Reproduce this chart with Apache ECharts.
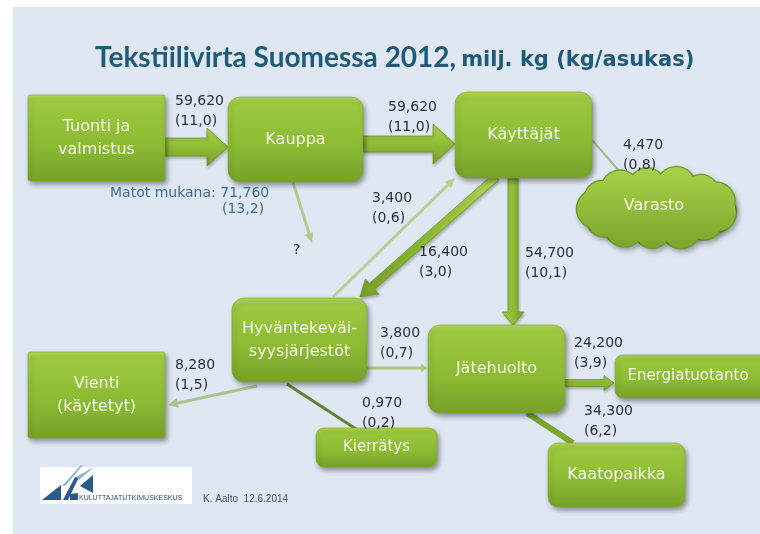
<!DOCTYPE html>
<html><head><meta charset="utf-8">
<script src="https://cdn.jsdelivr.net/npm/echarts@6/dist/echarts.min.js"></script>
<style>html,body{margin:0;padding:0;background:#fff}#c{width:760px;height:534px}</style>
</head><body><div id="c"></div>
<script>
// ---------------- DATA ----------------
const nodeNames = ['Tuonti ja\nvalmistus', 'Kauppa', 'Käyttäjät', 'Varasto', 'Hyväntekeväi-\nsyysjärjestöt',
  'Vienti\n(käytetyt)', 'Jätehuolto', 'Energiatuotanto', 'Kierrätys', 'Kaatopaikka'];
// flows (index into nodeNames; -1 = unknown destination)
const flowFrom = [0, 1, 2, 2, 4, 2, 4, 4, 4, 6, 6, 1];
const flowTo   = [1, 2, 3, 4, 2, 6, 5, 6, 8, 7, 9, -1];
const flowMillionKg   = [59.62, 59.62, 4.47, 16.4, 3.4, 54.7, 8.28, 3.8, 0.97, 24.2, 34.3, null];
const flowKgPerCapita = [11.0, 11.0, 0.8, 3.0, 0.6, 10.1, 1.5, 0.7, 0.2, 3.9, 6.2, null];
const carpetsMillionKg = [71.76];
const carpetsKgPerCapita = [13.2];
const titleMain = 'Tekstiilivirta Suomessa 2012,';
const titleUnit = 'milj. kg (kg/asukas)';
const carpetsLabel = 'Matot mukana: ';

// ---------------- LAYOUT (diagram units) ----------------
// x0, y0, x1, y1, corner radius, font size
const nodeBox = [
  [28, 95, 165, 181, 2, 16],
  [228, 97, 363, 182, 12, 16],
  [455, 92, 592, 178, 12, 16],
  [577, 166, 737, 250, 0, 16],
  [232, 298, 367, 382, 12, 16],
  [28, 352, 165, 438, 2, 16],
  [428, 325, 565, 413, 12, 16],
  [615, 355, 790, 398, 8, 15],
  [316, 428, 437, 467, 8, 15],
  [548, 443, 685, 507, 10, 16]
];
const nodeIsCloud = [false, false, false, true, false, false, false, false, false, false];
// x1, y1, x2, y2, shaft width, head width, head length, style
const flowPath = [
  [165, 147, 228, 147, 18, 38, 21, 'block'],
  [363, 144, 455, 144, 16, 40, 22, 'block'],
  [592, 140, 621, 173, 2, 0, 0, '#a5b98c'],
  [496, 177, 360, 297, 8, 20, 16, 'block'],
  [333, 297, 455, 178, 3, 9, 10, '#b8d08f'],
  [513, 178, 513, 325, 10, 22, 13, 'block'],
  [257, 386, 168, 405, 3, 10, 10, '#a9c58d'],
  [367, 368, 428, 368, 3, 8, 7, '#a8cb78'],
  [287, 384, 356, 429, 3, 0, 0, '#5f8530'],
  [565, 383, 614, 383, 7, 15, 10, 'block'],
  [527, 413, 573, 443, 6, 0, 0, '#7ba634'],
  [293, 182, 312, 243, 3, 9, 10, '#b3cb92']
];
// label x, first-line center y
const flowLabelPos = [
  [175, 101], [388, 107], [623, 145], [419, 252], [372, 198], [525, 253],
  [175, 365], [380, 333], [362, 403], [574, 343], [584, 411], [293, 250]
];
const carpetsLabelPos = [[110, 193], [222, 209]];

// ---------------- HELPERS ----------------
const fmt3 = v => v.toFixed(3).replace('.', ',');
const fmt1 = v => '(' + v.toFixed(1).replace('.', ',') + ')';
const numFont = '"DejaVu Sans", sans-serif';
const G = echarts.graphic;

function arrowPoints(p1, p2, w, hw, hl) {
  const dx = p2[0] - p1[0], dy = p2[1] - p1[1];
  const L = Math.sqrt(dx * dx + dy * dy);
  const ux = dx / L, uy = dy / L, nx = -uy, ny = ux;
  const P = (p, a) => [p[0] + nx * a, p[1] + ny * a];
  if (!hl) return [P(p1, w / 2), P(p2, w / 2), P(p2, -w / 2), P(p1, -w / 2)];
  const base = [p2[0] - ux * hl, p2[1] - uy * hl];
  return [P(p1, w / 2), P(base, w / 2), P(base, hw / 2), p2.slice(),
          P(base, -hw / 2), P(base, -w / 2), P(p1, -w / 2)];
}

function renderFlow(params, api) {
  const i = params.dataIndex;
  const f = flowPath[i];
  const p1 = api.coord([api.value(0), api.value(1)]);
  const p2 = api.coord([api.value(2), api.value(3)]);
  const pts = arrowPoints(p1, p2, f[4], f[5], f[6]);
  let style;
  if (f[7] === 'block') {
    const horiz = Math.abs(p2[1] - p1[1]) < Math.abs(p2[0] - p1[0]);
    style = {
      fill: new G.LinearGradient(0, 0, horiz ? 0 : 1, horiz ? 1 : 0, [
        { offset: 0, color: '#b0d54e' }, { offset: 0.5, color: '#8fbd35' }, { offset: 1, color: '#77a02a' }]),
      stroke: '#6f9728', lineWidth: 0.8,
      shadowBlur: 3, shadowColor: 'rgba(0,0,0,0.25)', shadowOffsetX: 1, shadowOffsetY: 2
    };
  } else {
    style = { fill: f[7] };
  }
  return { type: 'polygon', shape: { points: pts }, style };
}

function renderFlowLabel(params, api) {
  const i = params.dataIndex;
  const lp = api.coord([api.value(0), api.value(1)]);
  const txt = flowMillionKg[i] == null ? '?' :
    fmt3(flowMillionKg[i]) + '\n' + fmt1(flowKgPerCapita[i]);
  return {
    type: 'text',
    style: { x: lp[0], y: lp[1] - 10, text: txt, fill: '#2b2d38', font: '14px ' + numFont,
      lineHeight: 20, align: 'left', verticalAlign: 'top' }
  };
}

function renderNode(params, api) {
  const i = params.dataIndex;
  const b = nodeBox[i];
  const a = api.coord([api.value(0), api.value(1)]);
  const c = api.coord([api.value(2), api.value(3)]);
  const x = a[0], y = a[1], w = c[0] - a[0], h = c[1] - a[1];
  const children = [];
  if (nodeIsCloud[i]) {
    const cx = x + w / 2, cy = y + h / 2;
    const r = 19;
    const rx = w / 2 - r, ry = h / 2 - r;
    const circles = [];
    for (let k = 0; k < 13; k++) {
      const t = k / 13 * Math.PI * 2 + 0.2;
      circles.push([cx + Math.cos(t) * rx, cy + Math.sin(t) * ry, r - (k % 2) * 2]);
    }
    const grad = new G.LinearGradient(0, y, 0, y + h, [
      { offset: 0, color: '#a9d14a' }, { offset: 1, color: '#7aa52b' }], true);
    circles.forEach(q => children.push({ type: 'circle', shape: { cx: q[0], cy: q[1], r: q[2] + 1.3 },
      style: { fill: '#6f9a2a', shadowBlur: 5, shadowColor: 'rgba(0,0,0,0.3)', shadowOffsetX: 2, shadowOffsetY: 3 } }));
    children.push({ type: 'ellipse', shape: { cx, cy, rx: rx + 4, ry: ry + 6 }, style: { fill: grad } });
    circles.forEach(q => children.push({ type: 'circle', shape: { cx: q[0], cy: q[1], r: q[2] },
      style: { fill: grad } }));
    children.push({ type: 'ellipse', shape: { cx, cy, rx: rx + 4, ry: ry + 6 }, style: { fill: grad } });
    children.push({ type: 'text', z2: 40, style: { x: cx - 3, y: cy - 2, text: nodeNames[i], fill: '#f4f9e8',
      font: b[5] + 'px ' + numFont, align: 'center', verticalAlign: 'middle' } });
  } else {
    children.push({
      type: 'rect', shape: { x, y, width: w, height: h, r: b[4] },
      style: {
        fill: new G.LinearGradient(0, 0, 0, 1, [
          { offset: 0, color: '#b2d855' }, { offset: 0.08, color: '#9dc93f' },
          { offset: 0.6, color: '#8aba33' }, { offset: 1, color: '#76a12a' }]),
        stroke: '#7fa92e', lineWidth: 0.6,
        shadowBlur: 5, shadowColor: 'rgba(0,0,0,0.38)', shadowOffsetX: 2, shadowOffsetY: 3
      }
    });
    const tx = Math.min(x + w / 2, 688);
    children.push({ type: 'text', z2: 40, style: { x: tx, y: y + h / 2, text: nodeNames[i], fill: '#f4f9e8',
      font: b[5] + 'px ' + numFont, lineHeight: 23, align: 'center', verticalAlign: 'middle' } });
  }
  return { type: 'group', children };
}

function renderCarpets(params, api) {
  const p0 = api.coord(carpetsLabelPos[0]);
  const p1 = api.coord(carpetsLabelPos[1]);
  const st = { fill: '#3d6e8e', font: '14px ' + numFont, align: 'left', verticalAlign: 'middle' };
  return { type: 'group', children: [
    { type: 'text', style: Object.assign({ x: p0[0], y: p0[1], text: carpetsLabel + fmt3(carpetsMillionKg[0]) }, st) },
    { type: 'text', style: Object.assign({ x: p1[0], y: p1[1], text: fmt1(carpetsKgPerCapita[0]) }, st) }
  ] };
}

// ---------------- CHART ----------------
const chart = echarts.init(document.getElementById('c'), null, { renderer: 'canvas' });
const logoDark = '#2b5b8e', logoLight = '#8fb1d3';
chart.setOption({
  animation: false,
  backgroundColor: '#ffffff',
  title: {
    text: '{a|' + titleMain + '} {b|' + titleUnit + '}',
    left: 90, top: 39,
    textStyle: { rich: {
      a: { fontFamily: 'Lato', fontWeight: 'bold', fontSize: 28, color: '#1f5a78', verticalAlign: 'bottom' },
      b: { fontFamily: '"DejaVu Sans"', fontWeight: 'bold', fontSize: 21, color: '#1f5a78', verticalAlign: 'bottom', padding: [0, 0, 1, 0] }
    } }
  },
  graphic: [
    { type: 'rect', z: -10, silent: true, shape: { x: 13, y: 7, width: 760, height: 540 }, style: { fill: '#dfe7f2' } },
    { type: 'rect', z: -5, shape: { x: 40, y: 467, width: 152, height: 37 }, style: { fill: '#ffffff' } },
    { type: 'polygon', z: -4, shape: { points: [[42, 500], [61, 485], [61, 500]] }, style: { fill: logoDark } },
    { type: 'polygon', z: -4, shape: { points: [[63, 500], [75, 477], [79, 477], [68, 500]] }, style: { fill: logoDark } },
    { type: 'polygon', z: -4, shape: { points: [[62, 486], [81, 465], [83, 465], [65, 486]] }, style: { fill: logoLight } },
    { type: 'polygon', z: -4, shape: { points: [[76, 477], [94, 467], [79, 480]] }, style: { fill: logoLight } },
    { type: 'polygon', z: -4, shape: { points: [[80, 486], [93, 475], [93, 493]] }, style: { fill: logoDark } },
    { type: 'polygon', z: -4, shape: { points: [[70, 494], [78, 493], [78, 500], [70, 500]] }, style: { fill: logoDark } },
    { type: 'text', z: -3, style: { x: 79, y: 498, text: 'KULUTTAJATUTKIMUSKESKUS', fill: '#2a4f80',
      font: '7px "Liberation Sans", Arial, sans-serif', verticalAlign: 'middle' } },
    { type: 'text', z: -3, style: { x: 203, y: 499, text: 'K. Aalto  12.6.2014', fill: '#4a4f58',
      font: '10px "Liberation Sans", Arial, sans-serif', verticalAlign: 'middle' } }
  ],
  grid: { left: 0, right: 0, top: 0, bottom: 0 },
  xAxis: { type: 'value', min: 0, max: 760, show: false },
  yAxis: { type: 'value', min: 0, max: 534, inverse: true, show: false },
  series: [
    { type: 'custom', name: 'flows', z: 2, clip: false, renderItem: renderFlow,
      encode: { x: [0, 2], y: [1, 3] },
      data: flowPath.map(f => [f[0], f[1], f[2], f[3]]) },
    { type: 'custom', name: 'nodes', z: 3, clip: true, renderItem: renderNode,
      encode: { x: [0, 2], y: [1, 3] },
      data: nodeBox.map((b, i) => ({ name: nodeNames[i], value: [b[0], b[1], b[2], b[3]] })) },
    { type: 'custom', name: 'flowLabels', z: 5, renderItem: renderFlowLabel,
      encode: { x: 0, y: 1 },
      data: flowLabelPos.map((p, i) => ({ name: String(flowMillionKg[i]), value: [p[0], p[1]] })) },
    { type: 'custom', name: 'carpets', z: 5, renderItem: renderCarpets,
      data: [[carpetsLabelPos[0][0], carpetsLabelPos[0][1]]] }
  ]
});
</script></body></html>
